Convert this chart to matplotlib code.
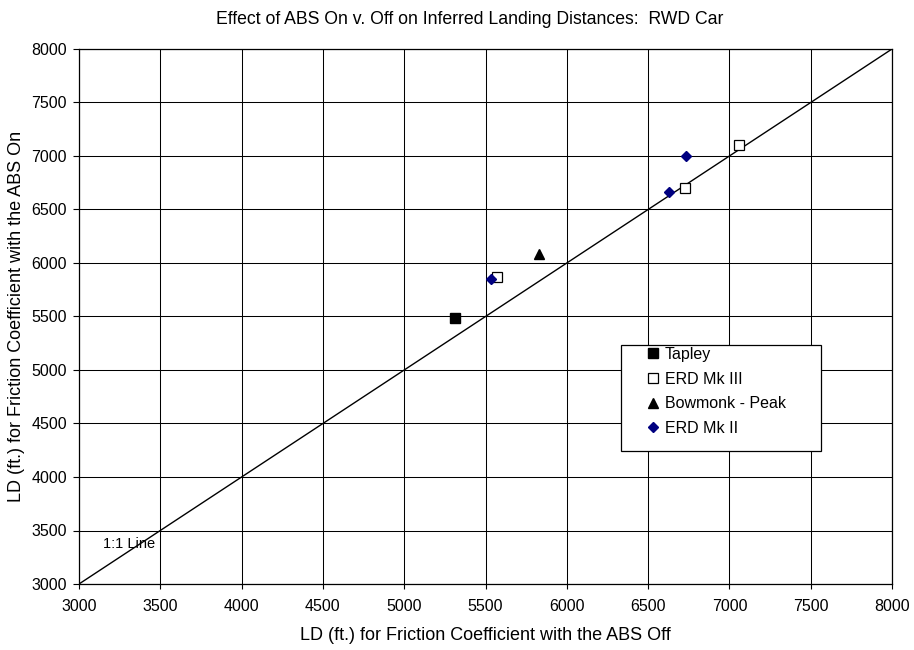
import matplotlib
matplotlib.use("Agg")
import matplotlib.pyplot as plt
from matplotlib.patches import Rectangle

plt.rcParams['font.family'] = ['Liberation Sans', 'DejaVu Sans']

# Landing distances (ft.) with ABS off (x) and ABS on (y)
tapley_off = [5310]
tapley_on = [5490]

erd_mk3_off = [5570, 6725, 7060]
erd_mk3_on = [5865, 6705, 7105]

bowmonk_off = [5830]
bowmonk_on = [6085]

erd_mk2_off = [5535, 6630, 6735]
erd_mk2_on = [5850, 6660, 7000]

one_to_one = [3000, 8000]
ticks = [3000, 3500, 4000, 4500, 5000, 5500, 6000, 6500, 7000, 7500, 8000]

W, H = 914, 650
fig = plt.figure(figsize=(W / 100, H / 100), dpi=100)
ax_l, ax_r, ax_t, ax_b = 79, 892, 49, 584
ax = fig.add_axes([ax_l / W, 1 - ax_b / H, (ax_r - ax_l) / W, (ax_b - ax_t) / H])

ax.set_xlim(3000, 8000)
ax.set_ylim(3000, 8000)
ax.set_xticks(ticks)
ax.set_yticks(ticks)
ax.grid(True, color='black', linewidth=0.75)
ax.set_axisbelow(True)
for s in ax.spines.values():
    s.set_color('black')
    s.set_linewidth(0.9)

fs = 11.5
ax.tick_params(axis='x', direction='out', length=3.6, width=0.8, pad=7, labelsize=fs)
ax.tick_params(axis='y', direction='out', length=4.3, width=0.8, pad=4.3, labelsize=fs)

# 1:1 reference line
ax.plot(one_to_one, one_to_one, color='black', linewidth=1.0, zorder=2)
ax.text(3310, 3370, '1:1 Line', fontsize=fs - 1, ha='center', va='center', zorder=3)

ax.plot(tapley_off, tapley_on, linestyle='none', marker='s', markersize=6.5,
        markerfacecolor='black', markeredgecolor='black', label='Tapley', zorder=4)
ax.plot(erd_mk3_off, erd_mk3_on, linestyle='none', marker='s', markersize=6.8,
        markerfacecolor='white', markeredgecolor='black', markeredgewidth=0.9,
        label='ERD Mk III', zorder=4)
ax.plot(bowmonk_off, bowmonk_on, linestyle='none', marker='^', markersize=6.5,
        markerfacecolor='black', markeredgecolor='black', label='Bowmonk - Peak', zorder=4)
ax.plot(erd_mk2_off, erd_mk2_on, linestyle='none', marker='D', markersize=4.8,
        markerfacecolor='#000080', markeredgecolor='#000080', label='ERD Mk II', zorder=5)

lab_fs = 13
ax.set_xlabel('LD (ft.) for Friction Coefficient with the ABS Off', fontsize=lab_fs)
ax.set_ylabel('LD (ft.) for Friction Coefficient with the ABS On', fontsize=lab_fs)
ax.xaxis.set_label_coords(0.5, (ax_b - 635) / (ax_b - ax_t))
ax.xaxis.label.set_va('center')
ax.yaxis.set_label_coords((17 - ax_l) / (ax_r - ax_l), 0.5)
ax.yaxis.label.set_va('center')

fig.text(470 / W, 1 - 19 / H, 'Effect of ABS On v. Off on Inferred Landing Distances:  RWD Car',
         ha='center', va='center', fontsize=12.7)

# legend box
lx0, lx1, ly0, ly1 = 621, 821, 345, 451
box = Rectangle((lx0 / W, 1 - ly1 / H), (lx1 - lx0) / W, (ly1 - ly0) / H,
                transform=fig.transFigure, facecolor='white', edgecolor='black',
                linewidth=0.9, zorder=6, clip_on=False)
ax.add_patch(box)
leg = ax.legend(loc='upper left', bbox_to_anchor=((645 - ax_l) / (ax_r - ax_l), (ax_b - 347) / (ax_b - ax_t)),
                frameon=False, fontsize=fs, handlelength=1.0, handletextpad=0.25,
                labelspacing=0.6, borderpad=0.0, borderaxespad=0.0, numpoints=1)
leg.set_zorder(7)

fig.savefig('out.png', dpi=100)
